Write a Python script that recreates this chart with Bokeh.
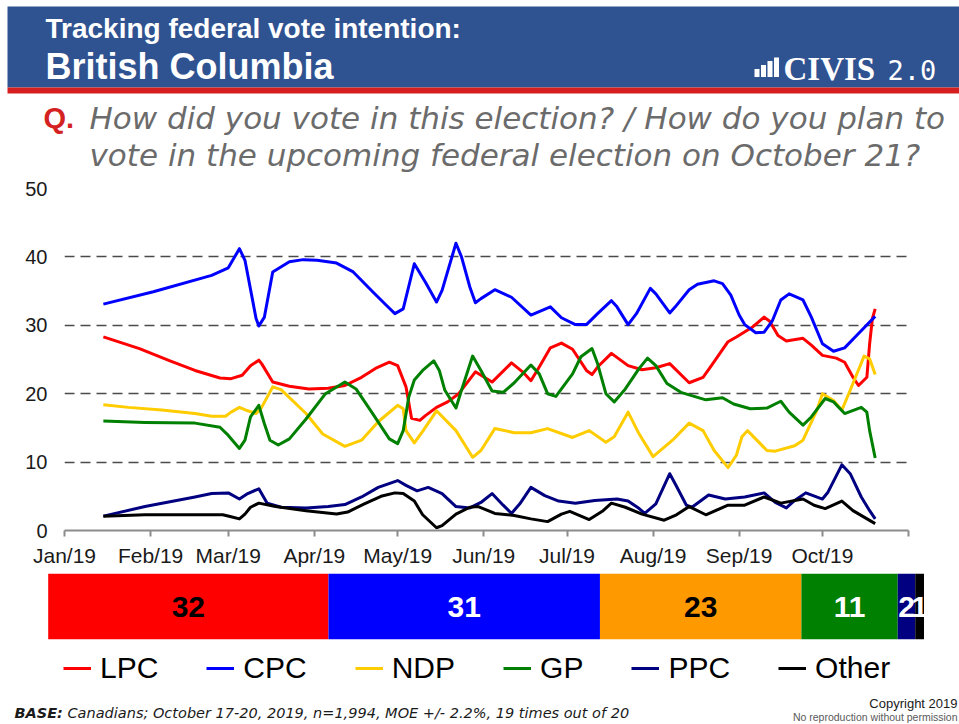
import pandas as pd
from bokeh.plotting import figure
from bokeh.layouts import column
from bokeh.models import (Range1d, FactorRange, FixedTicker, Label, Legend,
                          LegendItem, CustomJSTickFormatter)
from bokeh.embed import file_html
from bokeh.resources import INLINE
from bokeh.core.properties import value

YEAR = "2019"

# ---------------- data ----------------
lpc = [("01-15", 28.3), ("01-28", 26.6), ("02-08", 24.8), ("02-17", 23.4), ("02-26", 22.3),
       ("03-02", 22.2), ("03-06", 22.7), ("03-09", 24.1), ("03-12", 24.9), ("03-13", 24.4),
       ("03-17", 21.7), ("03-23", 21.1), ("03-30", 20.7), ("04-06", 20.8), ("04-12", 21.2),
       ("04-18", 22.4), ("04-23", 23.7), ("04-28", 24.6), ("05-01", 24.1), ("05-04", 21.0),
       ("05-06", 16.4), ("05-09", 16.1), ("05-11", 16.8), ("05-15", 18.0), ("05-19", 18.8),
       ("05-23", 20.0), ("05-29", 23.2), ("06-04", 21.7), ("06-11", 24.5), ("06-15", 23.2),
       ("06-18", 21.9), ("06-21", 23.9), ("06-25", 26.7), ("06-29", 27.4), ("07-03", 26.5),
       ("07-08", 23.4), ("07-10", 22.8), ("07-12", 23.9), ("07-17", 25.9), ("07-23", 24.1),
       ("07-28", 23.5), ("08-02", 23.8), ("08-07", 24.4), ("08-14", 21.6), ("08-19", 22.4),
       ("08-22", 24.1), ("08-28", 27.6), ("08-31", 28.3), ("09-06", 29.8), ("09-10", 31.2),
       ("09-12", 30.6), ("09-15", 28.5), ("09-18", 27.7), ("09-24", 28.1), ("09-27", 27.1),
       ("10-01", 25.6), ("10-06", 25.2), ("10-09", 24.6), ("10-12", 22.4), ("10-14", 21.2),
       ("10-17", 22.4), ("10-18", 27.3), ("10-19", 31.0), ("10-20", 32.4)]

cpc = [("01-15", 33.1), ("02-02", 34.9), ("02-23", 37.3), ("03-01", 38.4), ("03-05", 41.2),
       ("03-07", 39.5), ("03-11", 31.0), ("03-12", 29.9), ("03-14", 31.2), ("03-17", 37.8),
       ("03-23", 39.3), ("03-28", 39.6), ("04-02", 39.5), ("04-09", 39.1), ("04-15", 37.8),
       ("04-22", 34.9), ("04-27", 32.9), ("04-30", 31.7), ("05-03", 32.4), ("05-07", 39.0),
       ("05-11", 36.3), ("05-15", 33.4), ("05-17", 35.1), ("05-22", 42.0), ("05-24", 40.0),
       ("05-27", 35.6), ("05-29", 33.3), ("05-31", 33.9), ("06-05", 35.2), ("06-11", 34.1),
       ("06-18", 31.5), ("06-25", 32.7), ("06-29", 31.1), ("07-04", 30.1), ("07-08", 30.1),
       ("07-12", 31.7), ("07-17", 33.6), ("07-19", 32.7), ("07-23", 30.1), ("07-26", 31.7),
       ("07-31", 35.4), ("08-02", 34.6), ("08-07", 31.8), ("08-09", 32.7), ("08-14", 35.2),
       ("08-17", 36.0), ("08-23", 36.5), ("08-26", 36.1), ("08-29", 34.4), ("09-01", 31.5),
       ("09-03", 30.1), ("09-07", 28.9), ("09-10", 29.0), ("09-13", 30.7), ("09-16", 33.7),
       ("09-19", 34.6), ("09-24", 33.7), ("09-27", 31.2), ("10-01", 27.3), ("10-05", 26.2),
       ("10-09", 26.7), ("10-14", 28.8), ("10-20", 31.3)]

ndp = [("01-15", 18.4), ("01-24", 18.0), ("02-05", 17.6), ("02-17", 17.1), ("02-23", 16.7),
       ("02-28", 16.7), ("03-02", 17.3), ("03-05", 18.0), ("03-08", 17.5), ("03-11", 17.1),
       ("03-13", 18.0), ("03-17", 21.0), ("03-20", 20.6), ("03-29", 17.1), ("04-04", 14.1),
       ("04-12", 12.3), ("04-18", 13.2), ("04-24", 15.9), ("05-01", 18.3), ("05-03", 17.8),
       ("05-04", 14.6), ("05-07", 12.8), ("05-10", 14.5), ("05-15", 17.5), ("05-22", 14.6),
       ("05-28", 10.7), ("05-31", 11.7), ("06-05", 14.9), ("06-12", 14.3), ("06-18", 14.3),
       ("06-24", 14.9), ("07-03", 13.6), ("07-09", 14.6), ("07-15", 12.9), ("07-18", 13.7),
       ("07-23", 17.3), ("07-27", 14.1), ("08-01", 10.8), ("08-08", 13.2), ("08-14", 15.7),
       ("08-19", 14.6), ("08-23", 11.7), ("08-28", 9.2), ("08-31", 11.0), ("09-02", 13.7),
       ("09-04", 14.6), ("09-11", 11.7), ("09-14", 11.6), ("09-21", 12.4), ("09-24", 13.2),
       ("09-29", 17.6), ("10-01", 20.0), ("10-05", 19.0), ("10-08", 17.6), ("10-11", 20.5),
       ("10-16", 25.5), ("10-18", 25.1), ("10-20", 22.8)]

gp = [("01-15", 16.0), ("01-30", 15.8), ("02-17", 15.7), ("02-26", 15.1), ("03-01", 13.9),
      ("03-05", 12.0), ("03-07", 13.2), ("03-09", 16.6), ("03-12", 18.3), ("03-14", 15.6),
      ("03-16", 13.2), ("03-19", 12.5), ("03-23", 13.4), ("03-29", 16.3), ("04-05", 20.0),
      ("04-12", 21.7), ("04-16", 20.7), ("04-22", 17.1), ("04-28", 13.4), ("05-01", 12.7),
      ("05-03", 14.6), ("05-05", 19.5), ("05-07", 22.0), ("05-10", 23.4), ("05-14", 24.8),
      ("05-16", 23.4), ("05-18", 20.5), ("05-22", 17.9), ("05-24", 20.5), ("05-28", 25.5),
      ("05-31", 23.4), ("06-04", 20.4), ("06-08", 20.2), ("06-12", 21.6), ("06-18", 24.2),
      ("06-21", 22.9), ("06-24", 20.0), ("06-27", 19.6), ("07-03", 22.9), ("07-06", 25.4),
      ("07-10", 26.6), ("07-12", 24.4), ("07-15", 20.0), ("07-18", 18.8), ("07-22", 20.7),
      ("07-27", 23.7), ("07-30", 25.2), ("08-02", 24.1), ("08-06", 21.5), ("08-11", 20.2),
      ("08-20", 19.1), ("08-26", 19.4), ("08-30", 18.5), ("09-05", 17.8), ("09-11", 17.9),
      ("09-16", 18.9), ("09-19", 17.3), ("09-24", 15.4), ("09-27", 16.6), ("10-02", 19.3),
      ("10-05", 18.8), ("10-09", 17.1), ("10-15", 18.0), ("10-17", 17.3), ("10-18", 14.6),
      ("10-20", 10.6)]

ppc = [("01-15", 2.1), ("01-30", 3.5), ("02-17", 4.9), ("02-23", 5.4), ("03-01", 5.5),
       ("03-05", 4.6), ("03-08", 5.4), ("03-12", 6.1), ("03-15", 4.0), ("03-20", 3.4),
       ("03-29", 3.3), ("04-06", 3.5), ("04-12", 3.8), ("04-18", 4.9), ("04-24", 6.3),
       ("05-01", 7.3), ("05-04", 6.6), ("05-08", 5.8), ("05-12", 6.3), ("05-17", 5.4),
       ("05-22", 3.5), ("05-27", 3.3), ("05-31", 4.1), ("06-04", 5.4), ("06-08", 3.7),
       ("06-11", 2.5), ("06-14", 3.9), ("06-18", 6.3), ("06-23", 5.1), ("06-28", 4.3),
       ("07-04", 4.0), ("07-11", 4.4), ("07-19", 4.6), ("07-23", 4.3), ("07-27", 3.2),
       ("07-29", 2.5), ("08-02", 3.9), ("08-07", 8.3), ("08-09", 6.8), ("08-13", 3.7),
       ("08-15", 3.4), ("08-21", 5.2), ("08-27", 4.6), ("09-03", 4.9), ("09-10", 5.5),
       ("09-14", 4.1), ("09-18", 3.3), ("09-21", 4.4), ("09-25", 5.5), ("10-01", 4.6),
       ("10-03", 5.6), ("10-08", 9.6), ("10-11", 8.3), ("10-15", 4.9), ("10-18", 2.9),
       ("10-20", 1.7)]

other = [("01-15", 2.1), ("01-30", 2.3), ("02-27", 2.3), ("03-02", 2.0), ("03-05", 1.7),
         ("03-07", 2.4), ("03-09", 3.4), ("03-12", 4.0), ("03-18", 3.5), ("03-29", 2.9),
         ("04-09", 2.4), ("04-13", 2.7), ("04-19", 3.9), ("04-25", 5.0), ("04-30", 5.5),
         ("05-03", 5.4), ("05-07", 4.3), ("05-10", 2.3), ("05-15", 0.4), ("05-17", 0.7),
         ("05-22", 2.4), ("05-27", 3.4), ("05-30", 3.5), ("06-05", 2.5), ("06-12", 2.2),
         ("06-18", 1.7), ("06-24", 1.3), ("06-29", 2.4), ("07-02", 2.8), ("07-09", 1.6),
         ("07-14", 2.9), ("07-17", 4.0), ("07-22", 3.4), ("07-28", 2.4), ("08-05", 1.5),
         ("08-09", 2.2), ("08-14", 3.5), ("08-20", 2.3), ("08-28", 3.7), ("09-03", 3.7),
         ("09-10", 4.9), ("09-16", 4.0), ("09-24", 4.6), ("09-28", 3.7), ("10-02", 3.2),
         ("10-08", 4.3), ("10-12", 2.9), ("10-20", 1.0)]

party_names = ["LPC", "CPC", "NDP", "GP", "PPC", "Other"]
line_colors = ["#FF0000", "#0000FF", "#FFCC00", "#008000", "#000080", "#000000"]
bar_colors = ["#FF0000", "#0000FF", "#FF9900", "#008000", "#000080", "#000000"]
bar_label_colors = ["#000000", "#FFFFFF", "#000000", "#FFFFFF", "#FFFFFF", "#FFFFFF"]
final_values = [32, 31, 23, 11, 2, 1]

month_starts = ["01-01", "02-01", "03-01", "04-01", "05-01", "06-01",
                "07-01", "08-01", "09-01", "10-01", "11-01"]
month_labels = ["Jan/19", "Feb/19", "Mar/19", "Apr/19", "May/19", "Jun/19",
                "Jul/19", "Aug/19", "Sep/19", "Oct/19", ""]
y_ticks = [0, 10, 20, 30, 40, 50]

title_line1 = "Tracking federal vote intention:"
title_line2 = "British Columbia"
question_1 = "How did you vote in this election? / How do you plan to"
question_2 = "vote in the upcoming federal election on October 21?"
base_note = "Canadians; October 17-20, 2019, n=1,994, MOE +/- 2.2%, 19 times out of 20"

# ---------------- helpers ----------------
def to_dt(mds):
    return pd.to_datetime([f"{YEAR}-{d}" for d in mds])

W = 959
FONT = "Liberation Sans"

def blank(height, x_range, y_range):
    f = figure(width=W, height=height, x_range=x_range, y_range=y_range,
               x_axis_location=None, y_axis_location=None, min_border=0,
               toolbar_location=None, output_backend="svg", frame_align=False)
    f.grid.visible = False
    f.outline_line_color = None
    return f

def mlabel(fig, x, y, text, color, font, style, size, align="left"):
    fig.add_layout(Label(x=x, y=y, text=text, text_color=color, text_font=font,
                         text_font_style=style, text_font_size=size,
                         text_align=align, text_baseline="middle"))

# ---------------- header (0..176 px) ----------------
HDR_H = 176
hdr = blank(HDR_H, Range1d(0, 959), Range1d(HDR_H, 0))
hdr.quad(left=7, right=959, top=6, bottom=87, fill_color="#2F5291", line_color=None)
hdr.quad(left=7, right=959, top=87, bottom=93, fill_color="#D61F1F", line_color=None)
mlabel(hdr, 45, 28, title_line1, "white", FONT, "bold", "28px")
mlabel(hdr, 45, 66, title_line2, "white", FONT, "bold", "36px")
# logo
logo_bar_h = [8, 12, 16, 19.5]
for i, h in enumerate(logo_bar_h):
    hdr.quad(left=754 + 6.5 * i, right=759 + 6.5 * i, top=76.5 - h, bottom=76.5,
             fill_color="white", line_color=None)
mlabel(hdr, 783, 68, "CIVIS", "white", "Liberation Serif", "bold", "33px")
mlabel(hdr, 887, 69, "2.0", "white", "DejaVu Sans Mono", "normal", "27px")
# question
mlabel(hdr, 43, 117, "Q.", "#D42222", FONT, "bold", "29px")
mlabel(hdr, 89, 117, question_1, "#6B6B6B", "DejaVu Sans", "italic", "31px")
mlabel(hdr, 89, 154, question_2, "#6B6B6B", "DejaVu Sans", "italic", "31px")

# ---------------- main tracking chart (176..572 px) ----------------
month_dt = to_dt(month_starts)
tick_ms = [float(t.timestamp() * 1000) for t in month_dt]

p = figure(frame_width=844, frame_height=342, x_axis_type="datetime",
           x_range=Range1d(month_dt[0], month_dt[-1]), y_range=Range1d(0, 50),
           min_border_left=64, min_border_right=51, min_border_top=188 - HDR_H,
           min_border_bottom=42,
           toolbar_location=None, output_backend="svg", frame_align=False)
p.outline_line_color = None
p.xgrid.visible = False
p.ygrid.ticker = FixedTicker(ticks=y_ticks)
p.ygrid.grid_line_color = "#4A4A4A"
p.ygrid.grid_line_dash = "10 6"
p.ygrid.grid_line_width = 1.3

p.yaxis.ticker = FixedTicker(ticks=y_ticks)
p.yaxis.axis_line_color = None
p.yaxis.major_tick_line_color = None
p.yaxis.minor_tick_line_color = None
p.yaxis.major_label_text_font = FONT
p.yaxis.major_label_text_font_size = "20px"
p.yaxis.major_label_text_color = "#1A1A1A"
p.yaxis.major_label_standoff = 11

p.xaxis.ticker = FixedTicker(ticks=tick_ms)
p.xaxis.formatter = CustomJSTickFormatter(args=dict(tick_vals=tick_ms, tick_labels=month_labels), code="""
    let best = ""; let bd = Infinity;
    for (let i = 0; i < tick_vals.length; i++) {
        const d = Math.abs(tick_vals[i] - tick);
        if (d < bd) { bd = d; best = tick_labels[i]; }
    }
    return best;
""")
p.xaxis.axis_line_color = "#8C8C8C"
p.xaxis.axis_line_width = 2
p.xaxis.major_tick_line_color = "#8C8C8C"
p.xaxis.major_tick_line_width = 2
p.xaxis.major_tick_out = 6
p.xaxis.major_tick_in = 0
p.xaxis.minor_tick_line_color = None
p.xaxis.major_label_text_font = FONT
p.xaxis.major_label_text_font_size = "21px"
p.xaxis.major_label_text_color = "#1A1A1A"
p.xaxis.major_label_standoff = 7

for series, color in zip([lpc, cpc, ndp, gp, ppc, other], line_colors):
    d, v = zip(*series)
    p.line(x=to_dt(d), y=list(v), line_color=color, line_width=3, line_join="round")

# ---------------- final result bar (572..640 px) ----------------
BAR_LEFT_PX, BAR_RIGHT_PX = 47.7, 923.5
total = sum(final_values)
px_per = (BAR_RIGHT_PX - BAR_LEFT_PX) / total
bx0 = -BAR_LEFT_PX / px_per
bx1 = total + (W - BAR_RIGHT_PX) / px_per
bar = blank(68, Range1d(bx0, bx1), FactorRange(factors=["BC"]))
lefts, acc = [], 0
for v in final_values:
    lefts.append(acc)
    acc += v
rights = [l + v for l, v in zip(lefts, final_values)]
centers = [l + v / 2 for l, v in zip(lefts, final_values)]
bar.hbar(y=["BC"] * len(final_values), left=lefts, right=rights, height=0.96,
         fill_color=bar_colors, line_color=None)
bar.text(x=centers, y=["BC"] * len(final_values), text=[str(v) for v in final_values],
         text_color=bar_label_colors, text_align="center", text_baseline="middle",
         text_font=value(FONT), text_font_style="bold", text_font_size="30px")

# ---------------- legend + footer (640..724 px) ----------------
leg = blank(84, Range1d(0, 959), Range1d(724, 640))
items = []
nan = float("nan")
for name, color in zip(party_names, line_colors):
    r = leg.line(x=[nan], y=[nan], line_color=color, line_width=3)
    items.append(LegendItem(label=name, renderers=[r]))
legend = Legend(items=items, orientation="horizontal", location=(63, 39), spacing=48,
                glyph_width=28, glyph_height=20, label_standoff=9,
                label_text_font=FONT, label_text_font_size="30px", label_text_color="#000000",
                padding=0, margin=0, border_line_color=None, background_fill_alpha=0)
leg.add_layout(legend)
mlabel(leg, 14, 712, "BASE:", "#1A1A1A", "DejaVu Sans", "bold italic", "14.5px")
mlabel(leg, 67, 712, base_note, "#1A1A1A", "DejaVu Sans", "italic", "14.5px")
mlabel(leg, 957, 703, "Copyright 2019", "#1A1A1A", FONT, "normal", "13px", align="right")
mlabel(leg, 957, 716, "No reproduction without permission", "#595959", FONT, "normal",
       "10.5px", align="right")

layout = column(hdr, p, bar, leg, spacing=0)
open("out.html", "w").write(file_html(layout, INLINE))
